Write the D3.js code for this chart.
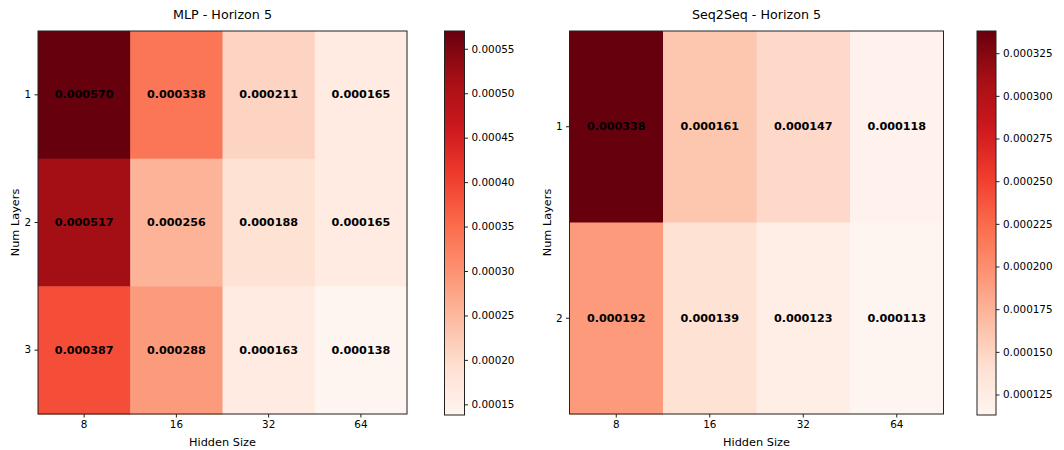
<!DOCTYPE html>
<html><head><meta charset="utf-8">
<script src="https://cdn.jsdelivr.net/npm/d3@7"></script>
<style>body{margin:0;background:#fff}svg{display:block}text{font-family:"DejaVu Sans",sans-serif;fill:#000}</style>
</head><body><svg id="c" width="1064" height="450"></svg>
<script>
const hiddenSizes = ["8", "16", "32", "64"];
const mlpLayers = ["1", "2", "3"];
const mlpValues = [
  [0.000570, 0.000338, 0.000211, 0.000165],
  [0.000517, 0.000256, 0.000188, 0.000165],
  [0.000387, 0.000288, 0.000163, 0.000138]
];
const seqLayers = ["1", "2"];
const seqValues = [
  [0.000338, 0.000161, 0.000147, 0.000118],
  [0.000192, 0.000139, 0.000123, 0.000113]
];
const mlpCbarTicks = [0.00015, 0.00020, 0.00025, 0.00030, 0.00035, 0.00040, 0.00045, 0.00050, 0.00055];
const seqCbarTicks = [0.000125, 0.000150, 0.000175, 0.000200, 0.000225, 0.000250, 0.000275, 0.000300, 0.000325];

const redsColors = ["#fff5f0","#fee0d2","#fcbba1","#fc9272","#fb6a4a","#ef3b2c","#cb181d","#a50f15","#67000d"];
const reds = d3.piecewise(d3.interpolateRgb, redsColors);

const svg = d3.select("#c");

function panel(opt) {
  const {x0, x1, y0, y1, cbx0, cbx1, title, rows, values, ticks, fmt, ylabX, id} = opt;
  const flat = values.flat();
  const vmin = d3.min(flat), vmax = d3.max(flat);
  const color = d3.scaleSequential(reds).domain([vmin, vmax]);
  const xs = d3.scaleBand().domain(hiddenSizes).range([x0, x1]).padding(0);
  const ys = d3.scaleBand().domain(rows).range([y0, y1]).padding(0);
  const g = svg.append("g");
  rows.forEach((r, i) => {
    hiddenSizes.forEach((h, j) => {
      g.append("rect").attr("x", xs(h)).attr("y", ys(r))
        .attr("width", xs.bandwidth() + 0.5).attr("height", ys.bandwidth() + 0.5)
        .attr("fill", color(values[i][j]));
      g.append("text").attr("x", xs(h) + xs.bandwidth() / 2).attr("y", ys(r) + ys.bandwidth() / 2)
        .attr("text-anchor", "middle").attr("dominant-baseline", "central")
        .attr("font-size", 11.2).attr("font-weight", "bold")
        .text(values[i][j].toFixed(6));
    });
  });
  g.append("rect").attr("x", x0).attr("y", y0).attr("width", x1 - x0).attr("height", y1 - y0)
    .attr("fill", "none").attr("stroke", "#222").attr("stroke-width", 1);
  const xa = g.append("g").attr("transform", `translate(0,${y1})`)
    .call(d3.axisBottom(xs).tickSize(3.5).tickPadding(3.5));
  const ya = g.append("g").attr("transform", `translate(${x0},0)`)
    .call(d3.axisLeft(ys).tickSize(3.5).tickPadding(3.5));
  [xa, ya].forEach(a => {
    a.select(".domain").remove();
    a.selectAll("text").attr("font-size", 10.4).attr("font-family", "DejaVu Sans");
    a.selectAll("line").attr("stroke", "#222");
  });
  g.append("text").attr("x", (x0 + x1) / 2).attr("y", 19).attr("text-anchor", "middle")
    .attr("font-size", 12.7).text(title);
  g.append("text").attr("x", (x0 + x1) / 2).attr("y", 446).attr("text-anchor", "middle")
    .attr("font-size", 11.3).text("Hidden Size");
  g.append("text").attr("transform", `translate(${ylabX},${(y0 + y1) / 2}) rotate(-90)`)
    .attr("text-anchor", "middle").attr("font-size", 11.3).text("Num Layers");

  // colorbar
  const cy0 = 31, cy1 = 415;
  const cs = d3.scaleLinear().domain([vmin, vmax]).range([cy1, cy0]);
  const grad = svg.append("defs").append("linearGradient").attr("id", id)
    .attr("x1", 0).attr("y1", 1).attr("x2", 0).attr("y2", 0);
  d3.range(0, 1.0001, 0.02).forEach(t => {
    grad.append("stop").attr("offset", t).attr("stop-color", reds(t));
  });
  g.append("rect").attr("x", cbx0).attr("y", cy0).attr("width", cbx1 - cbx0).attr("height", cy1 - cy0)
    .attr("fill", `url(#${id})`).attr("stroke", "#222").attr("stroke-width", 1);
  const ca = g.append("g").attr("transform", `translate(${cbx1},0)`)
    .call(d3.axisRight(cs).tickValues(ticks).tickFormat(d3.format(fmt)).tickSize(3.5).tickPadding(3.5));
  ca.select(".domain").remove();
  ca.selectAll("text").attr("font-size", 10.4).attr("font-family", "DejaVu Sans");
  ca.selectAll("line").attr("stroke", "#222");
}

panel({x0: 38, x1: 407, y0: 31, y1: 414, cbx0: 444.5, cbx1: 464.5, title: "MLP - Horizon 5",
  rows: mlpLayers, values: mlpValues, ticks: mlpCbarTicks, fmt: ".5f", ylabX: 19, id: "g1"});
panel({x0: 569.5, x1: 943.5, y0: 31, y1: 414, cbx0: 977, cbx1: 996, title: "Seq2Seq - Horizon 5",
  rows: seqLayers, values: seqValues, ticks: seqCbarTicks, fmt: ".6f", ylabX: 551, id: "g2"});
</script></body></html>
